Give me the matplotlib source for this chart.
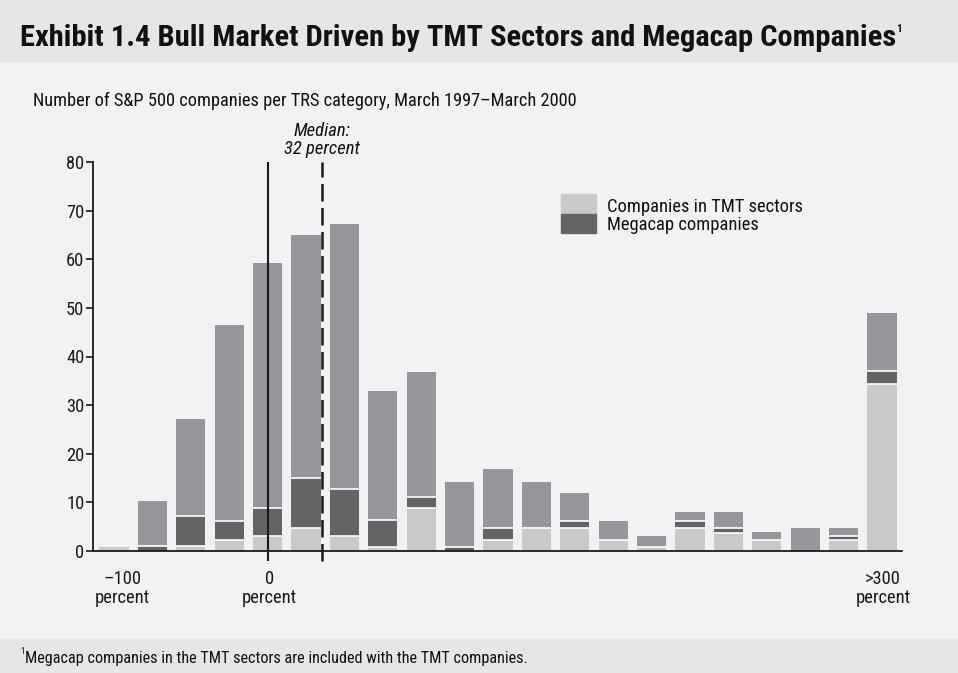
import matplotlib
matplotlib.use('Agg')
import matplotlib.pyplot as plt
from matplotlib import font_manager
from matplotlib.patches import Rectangle

# Data (bars from -100 percent to >300 percent TRS)
tmt = [0.8, 0, 1.0, 2.3, 3.1, 4.8, 3.1, 0.9, 8.9, 0, 2.3, 4.8, 4.7, 2.3, 0.9, 4.7, 3.8, 2.3, 0, 2.3, 34.4]
megacap = [0, 1.0, 6.1, 3.9, 5.8, 10.2, 9.7, 5.4, 2.3, 0.9, 2.4, 0, 1.5, 0, 0, 1.5, 1.0, 0, 0, 0.8, 2.6]
other = [0, 9.3, 20.1, 40.2, 50.3, 50.0, 54.4, 26.7, 25.7, 13.3, 12.2, 9.4, 5.8, 3.9, 2.2, 1.8, 3.2, 1.6, 4.7, 1.6, 12.0]
x_labels = ['\u2013100\npercent', '0\npercent', '>300\npercent']
x_label_pos = [0.21, 4.04, 20.03]
zero_pos = 4.01
median_pos = 5.41
y_ticks = [0, 10, 20, 30, 40, 50, 60, 70, 80]

W, H = 958, 673

# pick the narrowest available sans family
installed = set(f.name for f in font_manager.fontManager.ttflist)
FONT = 'DejaVu Sans'
for cand in ['DejaVu Sans Condensed', 'Liberation Sans Narrow', 'Roboto Condensed', 'Roboto', 'Liberation Sans']:
    if cand in installed:
        FONT = cand
        break
plt.rcParams['font.family'] = [FONT, 'DejaVu Sans']

c_tmt = '#c8c9cb'
c_mega = '#646466'
c_other = '#96979a'
c_body = '#f1f2f4'
c_head = '#e5e6e8'
c_text = '#111111'


def fx(px):
    return px / W


def fy(py):
    return 1 - py / H


fig = plt.figure(figsize=(W / 100, H / 100), dpi=100)
fig.patch.set_facecolor(c_body)
renderer = fig.canvas.get_renderer()


def fit(t, width_px):
    # shrink/grow a text so it spans the width seen in the reference
    w = t.get_window_extent(renderer).width
    t.set_fontsize(t.get_fontsize() * width_px / w)
    return t


# header and footer bands
fig.add_artist(Rectangle((0, fy(61)), 1, 61 / H, transform=fig.transFigure, color=c_head, zorder=0))
fig.add_artist(Rectangle((0, 0), 1, (H - 639) / H, transform=fig.transFigure, color=c_head, zorder=0))

fit(fig.text(fx(20), fy(38), 'Exhibit 1.4 Bull Market Driven by TMT Sectors and Megacap Companies',
             fontsize=20, fontweight='bold', va='center', ha='left', color=c_text), 873)
fig.text(fx(896), fy(29), '1', fontsize=8, fontweight='bold', va='center', ha='left', color=c_text)
fit(fig.text(fx(33), fy(101), 'Number of S&P 500 companies per TRS category, March 1997\u2013March 2000',
             fontsize=11.5, va='center', ha='left', color=c_text), 545)
fig.text(fx(20), fy(652), '1', fontsize=6.5, va='center', ha='left', color=c_text)
fit(fig.text(fx(25), fy(658), 'Megacap companies in the TMT sectors are included with the TMT companies.',
             fontsize=10, va='center', ha='left', color=c_text), 502)

# axes: bar i centred at pixel 114 + 38.4*i
ax = fig.add_axes([fx(92.7), fy(551), fx(902) - fx(92.7), (551 - 162) / H])
ax.set_facecolor('none')
ax.set_xlim((92.7 - 114) / 38.4, (902 - 114) / 38.4)
ax.set_ylim(0, 80)

n = len(tmt)
xs = list(range(n))
width = 0.76
bottom_mega = tmt
bottom_other = [a + b for a, b in zip(tmt, megacap)]
ax.bar(xs, tmt, width=width, color=c_tmt, zorder=2)
ax.bar(xs, megacap, width=width, bottom=bottom_mega, color=c_mega, zorder=2)
ax.bar(xs, other, width=width, bottom=bottom_other, color=c_other, zorder=2)

# white separators between stacked segments
for i in xs:
    segs = [tmt[i], megacap[i], other[i]]
    acc = 0
    for k, s in enumerate(segs[:-1]):
        acc += s
        if s > 0 and sum(segs[k + 1:]) > 0:
            ax.hlines(acc, i - width / 2, i + width / 2, color='white', lw=1.2, zorder=3)

# zero line and median line
ax.vlines(zero_pos, -2.1, 80, color='#1a1a1a', lw=1.5, clip_on=False, zorder=4)
ax.vlines(median_pos, -2.1, 80, color='#1a1a1a', lw=1.8, linestyles=(0, (7, 2.6)), clip_on=False, zorder=4)
t1 = ax.text(median_pos, 80 + (162 - 131) / 4.86, 'Median:', style='italic', fontsize=11.5,
             ha='center', va='center', color=c_text, clip_on=False)
t2 = ax.text(median_pos, 80 + (162 - 149) / 4.86, '32 percent', style='italic', fontsize=11.5,
             ha='center', va='center', color=c_text, clip_on=False)
fit(t2, 76)
t1.set_fontsize(t2.get_fontsize())

for side in ['top', 'right']:
    ax.spines[side].set_visible(False)
for side in ['left', 'bottom']:
    ax.spines[side].set_color('#1a1a1a')
    ax.spines[side].set_linewidth(1.3)
    ax.spines[side].set_zorder(5)

# legend
fig.add_artist(Rectangle((fx(561), fy(214)), 35 / W, 20 / H, transform=fig.transFigure, color=c_tmt))
fig.add_artist(Rectangle((fx(561), fy(233)), 35 / W, 19 / H, transform=fig.transFigure, color=c_mega))
lg = fit(fig.text(fx(607), fy(207), 'Companies in TMT sectors', fontsize=12, va='center', ha='left',
                  color=c_text), 195)
fig.text(fx(607), fy(225), 'Megacap companies', fontsize=lg.get_fontsize(), va='center', ha='left',
         color=c_text)

# tick label size from the width of "percent" (55 px in the reference)
probe = fig.text(0, 0, 'percent', fontsize=12)
fit(probe, 55)
tick_size = probe.get_fontsize()
probe.remove()

ax.set_yticks(y_ticks)
ax.set_yticklabels([str(v) for v in y_ticks])
ax.tick_params(axis='y', direction='out', length=5, width=1.2, pad=1, labelsize=tick_size, colors='#1a1a1a')
ax.set_xticks(x_label_pos)
ax.set_xticklabels(x_labels, linespacing=1.1)
ax.tick_params(axis='x', length=0, pad=13.5, labelsize=tick_size, colors='#1a1a1a')

fig.savefig('out.png', dpi=100, facecolor=fig.get_facecolor())
